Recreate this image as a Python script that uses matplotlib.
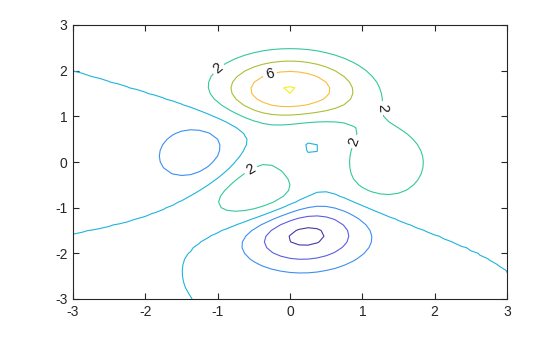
import numpy as np
import matplotlib
matplotlib.use("Agg")
import matplotlib.pyplot as plt

# Grid (Octave peaks default: 49 points on [-3, 3])
x_vals = np.linspace(-3, 3, 49)
y_vals = np.linspace(-3, 3, 49)
X, Y = np.meshgrid(x_vals, y_vals)

def peaks(x, y):
    return (3 * (1 - x) ** 2 * np.exp(-x ** 2 - (y + 1) ** 2)
            - 10 * (x / 5 - x ** 3 - y ** 5) * np.exp(-x ** 2 - y ** 2)
            - 1 / 3 * np.exp(-(x + 1) ** 2 - y ** 2))

Z = peaks(X, Y)

levels = [-6, -4, -2, 0, 2, 4, 6, 8]
level_colors = ['#4a35a6', '#5b5ee0', '#3d8ff0', '#1fb4dc',
                '#34c89c', '#aac034', '#f9bd3c', '#f5ef1c']
label_levels = [2, 6]
label_positions = [(-1.0, 2.06), (-0.28, 1.93), (1.27, 1.18), (0.9, 0.44), (-0.54, -0.18)]
ticks = [-3, -2, -1, 0, 1, 2, 3]

plt.rcParams['font.family'] = ['Liberation Sans', 'DejaVu Sans']
plt.rcParams['axes.unicode_minus'] = False
fig = plt.figure(figsize=(5.6, 3.37), dpi=100)
ax = fig.add_axes([73 / 560, 1 - 299 / 337, (507 - 73) / 560, (299 - 25) / 337])

plain_lv = [l for l in levels if l not in label_levels]
plain_col = [c for l, c in zip(levels, level_colors) if l not in label_levels]
lab_col = [c for l, c in zip(levels, level_colors) if l in label_levels]

ax.contour(X, Y, Z, levels=plain_lv, colors=plain_col, linewidths=0.8)
cs2 = ax.contour(X, Y, Z, levels=label_levels, colors=lab_col, linewidths=0.8)
ax.clabel(cs2, manual=label_positions, fmt='%d',
          fontsize=10.5, colors='#1a1a1a', inline=True, inline_spacing=3)

ax.set_xlim(-3, 3)
ax.set_ylim(-3, 3)
ax.set_xticks(ticks)
ax.set_yticks(ticks)
ax.tick_params(direction='in', top=True, right=True, length=4, width=0.8,
               labelsize=10, colors='#262626', pad=4)
for s in ax.spines.values():
    s.set_linewidth(0.8)
    s.set_color('#262626')

fig.savefig('out.png', dpi=100)
